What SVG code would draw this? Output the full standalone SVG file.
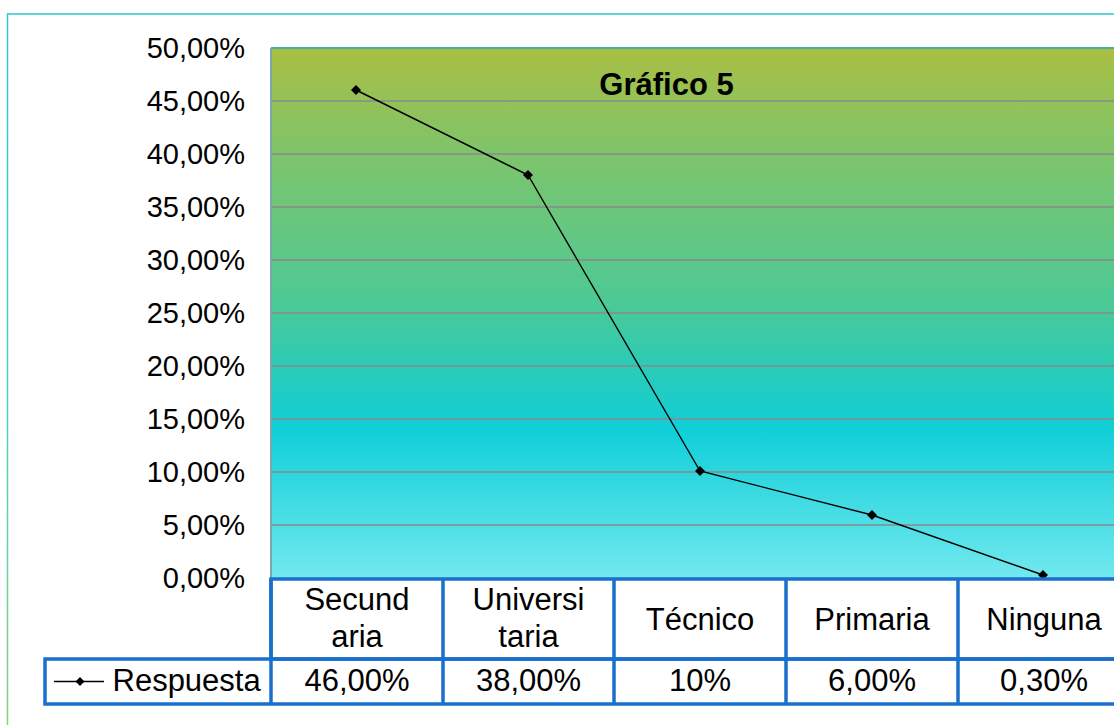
<svg xmlns="http://www.w3.org/2000/svg" width="1114" height="725" viewBox="0 0 1114 725">
<defs>
<linearGradient id="plotBg" x1="0" y1="48" x2="0" y2="578" gradientUnits="userSpaceOnUse">
<stop offset="0" stop-color="#aabf43"/>
<stop offset="0.2" stop-color="#7ec46b"/>
<stop offset="0.47" stop-color="#4fc994"/>
<stop offset="0.6" stop-color="#2ccbb6"/>
<stop offset="0.72" stop-color="#10cfd8"/>
<stop offset="1" stop-color="#72e8ef"/>
</linearGradient>
<linearGradient id="frame" x1="0" y1="14" x2="0" y2="725" gradientUnits="userSpaceOnUse">
<stop offset="0" stop-color="#2ec6d0"/>
<stop offset="0.5" stop-color="#48d0c8"/>
<stop offset="1" stop-color="#86d07c"/>
</linearGradient>
<marker id="dot" viewBox="-6 -6 12 12" markerWidth="12" markerHeight="12" markerUnits="userSpaceOnUse" refX="0" refY="0">
<path d="M0,-5 L5,0 L0,5 L-5,0 Z" fill="#000"/>
</marker>
</defs>
<style>
.ax{font-family:"Liberation Sans",Arial,sans-serif;font-size:29px;fill:#000;text-anchor:end}
.tb{font-family:"Liberation Sans",Arial,sans-serif;font-size:31px;fill:#000;text-anchor:middle}
.grid{stroke:#8a8a8a;stroke-width:1.5}
.cell{stroke:#1a6fcc;stroke-width:3.5;fill:none}
</style>
<rect x="0" y="0" width="1114" height="725" fill="#fff"/>
<rect x="7.5" y="14" width="1200" height="800" fill="none" stroke="url(#frame)" stroke-width="1.5"/>
<g id="plot">
<rect x="271" y="48" width="900" height="530" fill="url(#plotBg)"/>
<line class="grid" x1="271" y1="101" x2="1114" y2="101"/>
<line class="grid" x1="271" y1="154" x2="1114" y2="154"/>
<line class="grid" x1="271" y1="207" x2="1114" y2="207"/>
<line class="grid" x1="271" y1="260" x2="1114" y2="260"/>
<line class="grid" x1="271" y1="313" x2="1114" y2="313"/>
<line class="grid" x1="271" y1="366" x2="1114" y2="366"/>
<line class="grid" x1="271" y1="419" x2="1114" y2="419"/>
<line class="grid" x1="271" y1="472" x2="1114" y2="472"/>
<line class="grid" x1="271" y1="525" x2="1114" y2="525"/>
<line x1="271" y1="48" x2="1114" y2="48" stroke="#4aaea8" stroke-width="2"/>
<line x1="271" y1="48" x2="271" y2="578" stroke="#7aa8a8" stroke-width="2"/>
<text x="666.5" y="95" font-family="'Liberation Sans',Arial,sans-serif" font-size="31" font-weight="bold" text-anchor="middle" fill="#000">Gráfico 5</text>
</g>
<g id="y-axis">
<text class="ax" x="245" y="57.5">50,00%</text>
<text class="ax" x="245" y="110.5">45,00%</text>
<text class="ax" x="245" y="163.5">40,00%</text>
<text class="ax" x="245" y="216.5">35,00%</text>
<text class="ax" x="245" y="269.5">30,00%</text>
<text class="ax" x="245" y="322.5">25,00%</text>
<text class="ax" x="245" y="375.5">20,00%</text>
<text class="ax" x="245" y="428.5">15,00%</text>
<text class="ax" x="245" y="481.5">10,00%</text>
<text class="ax" x="245" y="534.5">5,00%</text>
<text class="ax" x="245" y="587.5">0,00%</text>
</g>
<g id="connectors">
<polyline id="series-respuesta" points="356,90 528,175 700,471 872,515 1043,575" fill="none" stroke="#000" stroke-width="1.4" marker-start="url(#dot)" marker-mid="url(#dot)" marker-end="url(#dot)"/>
</g>
<g id="data-table">
<rect class="cell" x="271" y="579" width="900" height="80" fill="#fff"/>
<rect class="cell" x="45" y="659" width="1126" height="45" fill="#fff"/>
<line class="cell" x1="443" y1="579" x2="443" y2="704"/>
<line class="cell" x1="614" y1="579" x2="614" y2="704"/>
<line class="cell" x1="786" y1="579" x2="786" y2="704"/>
<line class="cell" x1="958" y1="579" x2="958" y2="704"/>
<line class="cell" x1="271" y1="579" x2="271" y2="704"/>
<text class="tb" x="357" y="610">Secund</text>
<text class="tb" x="357" y="647">aria</text>
<text class="tb" x="528.5" y="610">Universi</text>
<text class="tb" x="528.5" y="647">taria</text>
<text class="tb" x="700" y="630">Técnico</text>
<text class="tb" x="872" y="630">Primaria</text>
<text class="tb" x="1044" y="630">Ninguna</text>
<text class="tb" x="357" y="691">46,00%</text>
<text class="tb" x="528.5" y="691">38,00%</text>
<text class="tb" x="700" y="691">10%</text>
<text class="tb" x="872" y="691">6,00%</text>
<text class="tb" x="1044" y="691">0,30%</text>
</g>
<g id="legend">
<line x1="54" y1="681.5" x2="104" y2="681.5" stroke="#000" stroke-width="1.4"/>
<path d="M80,677 L84.5,681.5 L80,686 L75.5,681.5 Z" fill="#000"/>
<text x="112.5" y="691" font-family="'Liberation Sans',Arial,sans-serif" font-size="31" fill="#000">Respuesta</text>
</g>
</svg>
